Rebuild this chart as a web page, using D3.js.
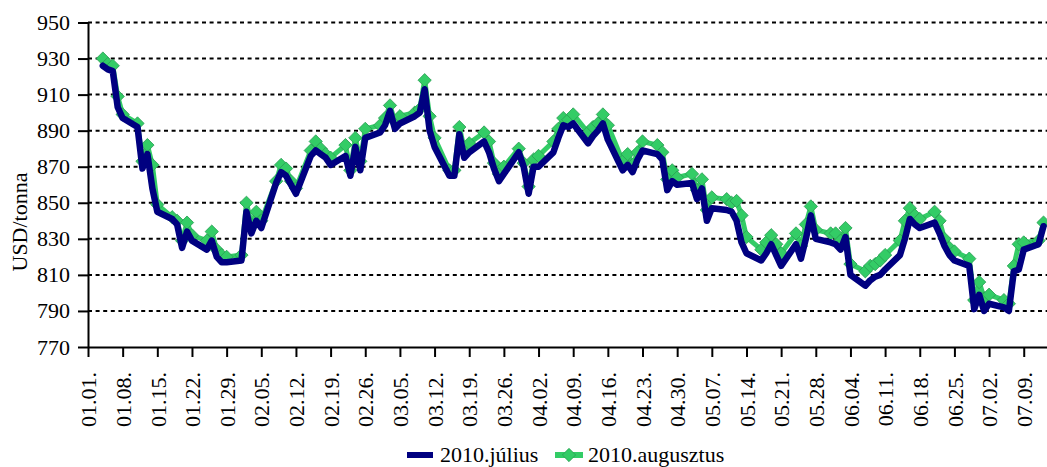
<!DOCTYPE html>
<html>
<head>
<meta charset="utf-8">
<script src="https://cdn.jsdelivr.net/npm/d3@7"></script>
<style>
body { margin: 0; background: #fff; }
text { font-family: "Liberation Serif", "Times New Roman", serif; fill: #000; }
</style>
</head>
<body>
<svg id="chart" width="1047" height="467"></svg>
<script>
// trading days of 2010 (MM-DD)
var days = [
  "01-04","01-05","01-06","01-07","01-08","01-11","01-12","01-13","01-14","01-15",
  "01-18","01-19","01-20","01-21","01-22","01-25","01-26","01-27","01-28","01-29",
  "02-01","02-02","02-03","02-04","02-05","02-08","02-09","02-10","02-11","02-12",
  "02-15","02-16","02-17","02-18","02-19","02-22","02-23","02-24","02-25","02-26",
  "03-01","03-02","03-03","03-04","03-05","03-08","03-09","03-10","03-11","03-12",
  "03-15","03-16","03-17","03-18","03-19","03-22","03-23","03-24","03-25","03-26",
  "03-29","03-30","03-31",
  "04-01","04-02","04-05","04-06","04-07","04-08","04-09","04-12","04-13","04-14",
  "04-15","04-16","04-19","04-20","04-21","04-22","04-23","04-26","04-27","04-28",
  "04-29","04-30",
  "05-03","05-04","05-05","05-06","05-07","05-10","05-11","05-12","05-13","05-14",
  "05-17","05-18","05-19","05-20","05-21","05-24","05-25","05-26","05-27","05-28",
  "05-31",
  "06-01","06-02","06-03","06-04","06-07","06-08","06-09","06-10","06-11","06-14",
  "06-15","06-16","06-17","06-18","06-21","06-22","06-23","06-24","06-25","06-28",
  "06-29","06-30",
  "07-01","07-02","07-05","07-06","07-07","07-08","07-09","07-12","07-13"
];

// 2010.július
var julius = [
  926,924,923,903,897,892,869,877,858,845,
  841,838,825,834,829,824,829,820,817,817,
  818,845,833,840,836,861,867,865,860,855,
  876,879,877,875,871,876,865,881,868,886,
  889,893,901,891,894,898,900,913,890,881,
  865,865,888,875,878,884,878,869,862,866,
  878,870,855,
  870,870,878,886,893,892,894,883,887,890,
  894,885,868,871,867,874,879,877,874,857,
  862,860,
  861,852,858,840,847,846,845,840,828,822,
  818,822,827,821,815,827,819,830,843,830,
  828,
  827,824,831,810,804,807,809,810,813,821,
  830,841,838,836,839,833,826,821,818,815,
  791,799,
  790,794,792,790,812,813,824,827,837
];

// 2010.augusztus
var augusztus = [
  930,927,926,909,899,894,873,882,871,849,
  842,840,829,839,832,829,834,824,821,820,
  821,850,838,845,840,862,871,869,862,858,
  879,884,880,877,875,882,868,886,873,891,
  893,897,904,895,898,900,902,918,898,886,
  868,868,892,880,883,889,884,872,866,870,
  880,872,859,
  874,876,884,891,897,896,899,889,892,894,
  899,893,873,877,871,878,884,882,878,863,
  868,864,
  866,857,863,846,853,852,850,851,843,831,
  824,828,832,827,822,833,826,838,848,835,
  833,
  833,829,836,816,812,815,816,818,821,829,
  840,847,843,841,845,840,830,825,823,819,
  796,806,
  797,799,796,794,815,827,828,829,839
];

var yTicks = [770, 790, 810, 830, 850, 870, 890, 910, 930, 950];
var xTicks = ["01.01.","01.08.","01.15.","01.22.","01.29.","02.05.","02.12.","02.19.",
  "02.26.","03.05.","03.12.","03.19.","03.26.","04.02.","04.09.","04.16.","04.23.",
  "04.30.","05.07.","05.14.","05.21.","05.28.","06.04.","06.11.","06.18.","06.25.",
  "07.02.","07.09."];
var seriesNames = ["2010.július", "2010.augusztus"];

var blue = "#000080", green = "#33cc66";
var svg = d3.select("svg#chart");
var parseDay = d3.utcParse("%Y-%m-%d");
var parseTick = d3.utcParse("%Y.%m.%d.");
var t0 = Date.UTC(2010, 0, 1);

var x = d3.scaleUtc()
    .domain([new Date(t0), new Date(t0 + 193.7 * 864e5)])
    .range([88, 1047]);
var y = d3.scaleLinear().domain([770, 950]).range([347, 22.5]);

// dotted gridlines
svg.append("g").selectAll("line")
    .data(yTicks.filter(function(v) { return v > 770; }))
    .enter().append("line")
    .attr("x1", 88).attr("x2", 1047)
    .attr("y1", function(v) { return y(v); })
    .attr("y2", function(v) { return y(v); })
    .attr("stroke", "#000").attr("stroke-width", 2)
    .attr("stroke-dasharray", "4,3.6");

// axes
var yAxis = svg.append("g").attr("transform", "translate(88,0)")
    .call(d3.axisLeft(y).tickValues(yTicks).tickSize(10).tickSizeOuter(0).tickPadding(8));
yAxis.selectAll("text").style("font-size", "22px").style("font-family", "Liberation Serif");

var tickDates = xTicks.map(function(s) { return parseTick("2010." + s); });
var xAxis = svg.append("g").attr("transform", "translate(0,347)")
    .call(d3.axisBottom(x).tickValues(tickDates).tickSize(10).tickSizeOuter(0)
        .tickFormat(function(d, i) { return xTicks[i]; }));
xAxis.selectAll("text")
    .style("font-size", "22px").style("font-family", "Liberation Serif")
    .attr("transform", "rotate(-90)")
    .attr("text-anchor", "end")
    .attr("x", -25).attr("y", 0).attr("dy", "0.35em");

svg.selectAll(".domain, .tick line").attr("stroke", "#000").attr("stroke-width", 2);

// series
var dataJul = days.map(function(d, i) { return { date: parseDay("2010-" + d), v: julius[i] }; });
var dataAug = days.map(function(d, i) { return { date: parseDay("2010-" + d), v: augusztus[i] }; });

var line = d3.line()
    .x(function(d) { return x(d.date); })
    .y(function(d) { return y(d.v); });

svg.append("clipPath").attr("id", "clip")
    .append("rect").attr("x", 80).attr("y", 0).attr("width", 967).attr("height", 347);

var plot = svg.append("g").attr("clip-path", "url(#clip)");

plot.append("path").datum(dataAug)
    .attr("d", line)
    .attr("fill", "none").attr("stroke", green).attr("stroke-width", 5)
    .attr("stroke-linejoin", "round");

var diamond = d3.symbol().type(d3.symbolSquare).size(88);
plot.append("g").selectAll("path")
    .data(dataAug).enter().append("path")
    .attr("d", diamond)
    .attr("transform", function(d) { return "translate(" + x(d.date) + "," + y(d.v) + ") rotate(45)"; })
    .attr("fill", green).attr("stroke", "#2a9f55").attr("stroke-width", 0.8);

plot.append("path").datum(dataJul)
    .attr("d", line)
    .attr("fill", "none").attr("stroke", blue).attr("stroke-width", 6.5)
    .attr("stroke-linejoin", "round").attr("stroke-linecap", "round");

// y title
svg.append("text")
    .attr("transform", "translate(27,222) rotate(-90)")
    .attr("text-anchor", "middle")
    .style("font-size", "22px")
    .text("USD/tonna");

// legend
var legend = svg.append("g");
legend.append("line").attr("x1", 407).attr("x2", 433).attr("y1", 455).attr("y2", 455)
    .attr("stroke", blue).attr("stroke-width", 6);
legend.append("text").attr("x", 440).attr("y", 462).style("font-size", "22px").text(seriesNames[0]);
legend.append("line").attr("x1", 555).attr("x2", 583).attr("y1", 455).attr("y2", 455)
    .attr("stroke", green).attr("stroke-width", 6);
legend.append("path").attr("d", diamond)
    .attr("transform", "translate(569,455) rotate(45)")
    .attr("fill", green).attr("stroke", "#2a9f55").attr("stroke-width", 0.8);
legend.append("text").attr("x", 588).attr("y", 462).style("font-size", "22px").text(seriesNames[1]);
</script>
</body>
</html>
